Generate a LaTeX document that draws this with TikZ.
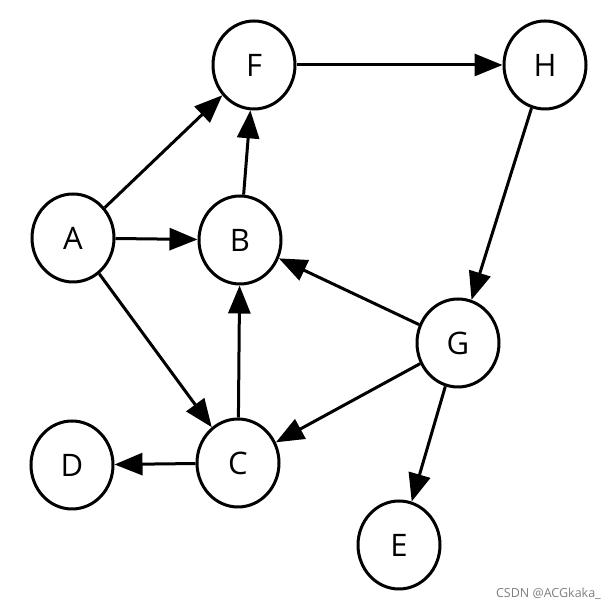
\documentclass[tikz,border=0pt]{standalone}
\usepackage{fontspec}
\setmainfont{Open Sans}
\usetikzlibrary{arrows.meta,shapes.geometric}

\begin{document}
\begin{tikzpicture}[x=1pt,y=1pt,
  vertex/.style={draw=drawColor,ellipse,line width=3pt,minimum width=82pt,minimum height=88pt,inner sep=0pt,font=\fontsize{31}{37}\selectfont},
  edge/.style={draw=drawColor,line width=3pt,-{Triangle[length=28pt,width=22pt]}}]
\definecolor{fillColor}{RGB}{255,255,255}
\definecolor{drawColor}{RGB}{0,0,0}
\definecolor{markColor}{gray}{0.5}
\path[use as bounding box,fill=fillColor] (0,0) rectangle (615,609);

% vertices
\node[vertex] (F) at (254,544) {F};
\node[vertex] (H) at (545,544) {H};
\node[vertex] (A) at ( 73,371) {A};
\node[vertex] (B) at (240,369) {B};
\node[vertex] (G) at (458,266) {G};
\node[vertex] (C) at (238,146) {C};
\node[vertex] (D) at ( 72,144) {D};
\node[vertex] (E) at (399, 64) {E};

% edges
\path[edge] (A) -- (F);
\path[edge] (A) -- (B);
\path[edge] (A) -- (C);
\path[edge] (B) -- (F);
\path[edge] (F) -- (H);
\path[edge] (H) -- (G);
\path[edge] (G) -- (B);
\path[edge] (G) -- (C);
\path[edge] (G) -- (E);
\path[edge] (C) -- (B);
\path[edge] (C) -- (D);

\node[text=markColor,anchor=base east,inner sep=0pt,font=\fontsize{12.5}{15}\selectfont] (mark) at (601,11) {CSDN @ACGkaka\_};
\end{tikzpicture}
\end{document}
